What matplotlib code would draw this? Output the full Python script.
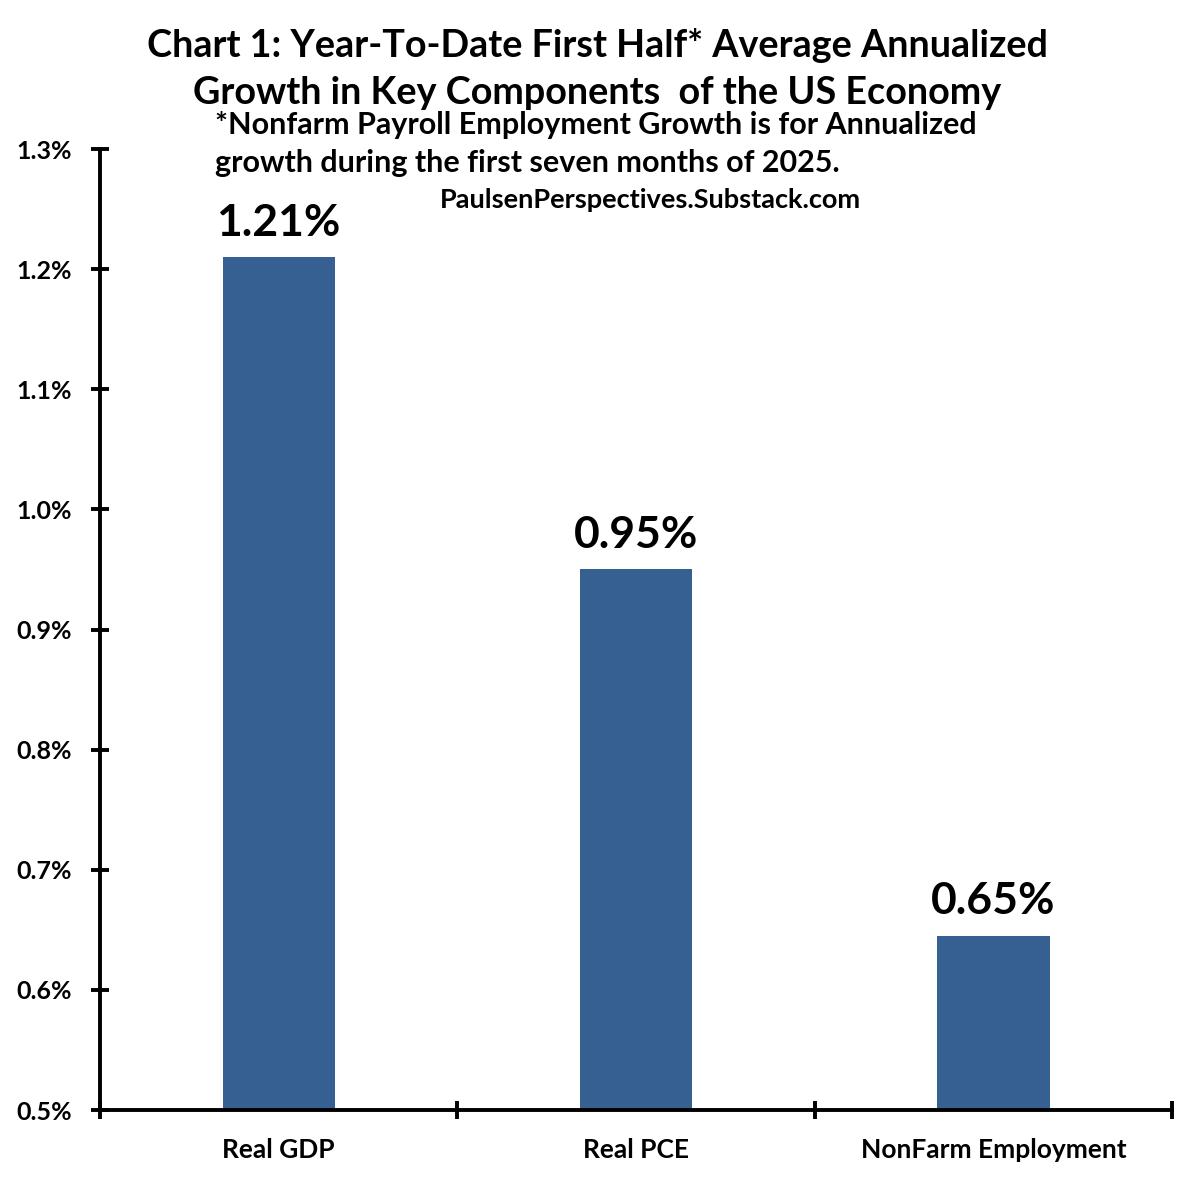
import numpy as np
import matplotlib
matplotlib.use("Agg")
import matplotlib.pyplot as plt
from matplotlib.ticker import FuncFormatter, FixedLocator

plt.rcParams['font.family'] = ['Lato', 'DejaVu Sans']
plt.rcParams['font.weight'] = 'bold'

categories = ["Real GDP", "Real PCE", "NonFarm Employment"]
values = [1.21, 0.95, 0.645]
value_labels = ["1.21%", "0.95%", "0.65%"]
yticks = [0.5, 0.6, 0.7, 0.8, 0.9, 1.0, 1.1, 1.2, 1.3]

bar_color = '#376092'

fig = plt.figure(figsize=(11.95, 11.79), dpi=100)
ax = fig.add_axes([0.0837, 0.0585, 0.8973, 0.8151])

x = np.arange(len(categories))
ax.bar(x, values, width=0.314, color=bar_color, zorder=2)

for xi, v, lab in zip(x, values, value_labels):
    ax.text(xi, v + 0.012, lab, ha='center', va='bottom', fontsize=32, fontweight='bold')

ax.set_xlim(-0.5, 2.5)
ax.set_ylim(0.5, 1.3)
ax.set_yticks(yticks)
ax.yaxis.set_major_formatter(FuncFormatter(lambda v, p: f"{v:.1f}%"))

# category labels between boundary ticks
ax.set_xticks(x)
ax.set_xticklabels(categories)
ax.xaxis.set_minor_locator(FixedLocator([-0.5, 0.5, 1.5, 2.5]))
ax.tick_params(axis='x', which='major', length=0, pad=20, labelsize=19)
ax.tick_params(axis='x', which='minor', direction='inout', length=13, width=2.8)
ax.tick_params(axis='y', direction='inout', length=13, width=2.8, pad=14, labelsize=18)

for side in ['top', 'right']:
    ax.spines[side].set_visible(False)
for side in ['left', 'bottom']:
    ax.spines[side].set_linewidth(2.8)

fig.text(0.5, 0.961, "Chart 1: Year-To-Date First Half* Average Annualized",
         ha='center', va='center', fontsize=27.2, fontweight='bold')
fig.text(0.5, 0.921, "Growth in Key Components  of the US Economy",
         ha='center', va='center', fontsize=27.2, fontweight='bold')
fig.text(0.180, 0.894, "*Nonfarm Payroll Employment Growth is for Annualized",
         ha='left', va='center', fontsize=22, fontweight='bold')
fig.text(0.180, 0.862, "growth during the first seven months of 2025.",
         ha='left', va='center', fontsize=22, fontweight='bold')
fig.text(0.544, 0.830, "PaulsenPerspectives.Substack.com",
         ha='center', va='center', fontsize=19.5, fontweight='bold')

fig.savefig("out.png", dpi=100)
